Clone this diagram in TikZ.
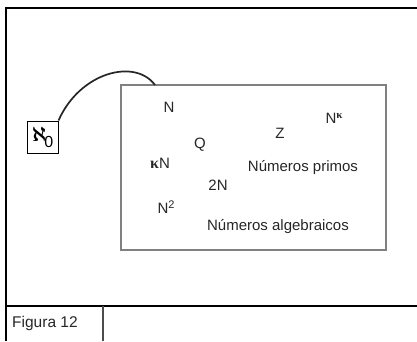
\documentclass[tikz,border=0pt]{standalone}
\usepackage{fontspec}
\setmainfont{Liberation Sans}
\newfontfamily\grk{Liberation Serif}
\begin{document}
\begin{tikzpicture}[x=1pt,y=-1pt,
  lbl/.style={font=\fontsize{15}{17}\selectfont, inner sep=0pt, text=black!85},
  frame/.style={line width=1.8pt, black}]
\useasboundingbox (0,0) rectangle (417,341);
% outer frame
\draw[frame] (417,8) -- (6,8) -- (6,341);
\draw[frame] (6,306) -- (417,306);
\draw[frame, black!70] (103,306) -- (103,341);
\node[font=\fontsize{15.5}{17}\selectfont, anchor=west, inner sep=0pt, text=black!85] (cap) at (12,323) {Figura 12};
% inner set
\node[draw=black!50, line width=2.4pt, minimum width=265pt, minimum height=165pt, inner sep=0pt] (set) at (253.5,167.5) {};
\coordinate (joint) at (155,85);
% aleph box
\node[draw, line width=1pt, minimum width=31pt, minimum height=32pt, inner sep=0pt] (al) at (42.5,137)
  {\raisebox{1pt}{\fontsize{22}{22}\selectfont\boldmath$\aleph$}\kern-2pt\raisebox{-5pt}{\fontsize{16}{16}\selectfont 0}};
\draw[line width=1.7pt, black!85] (al.north east) .. controls (80,72) and (135,58) .. (joint);
% labels
\node[lbl] (n) at (169,107) {N};
\node[lbl] (nk) at (334,118) {N\raisebox{5pt}{\fontsize{11}{11}\selectfont\grk\bfseries κ}};
\node[lbl] (z) at (280,133) {Z};
\node[lbl] (q) at (200,145) {Q};
\node[lbl] (kn) at (160,163) {{\fontsize{16}{16}\selectfont\grk\bfseries κ}N};
\node[lbl] (primos) at (303,168) {Números primos};
\node[lbl] (twon) at (218,185) {2N};
\node[lbl] (n2) at (166,207) {N\raisebox{5pt}{\fontsize{11}{11}\selectfont 2}};
\node[lbl] (alg) at (278,227) {Números algebraicos};
\end{tikzpicture}
\end{document}
